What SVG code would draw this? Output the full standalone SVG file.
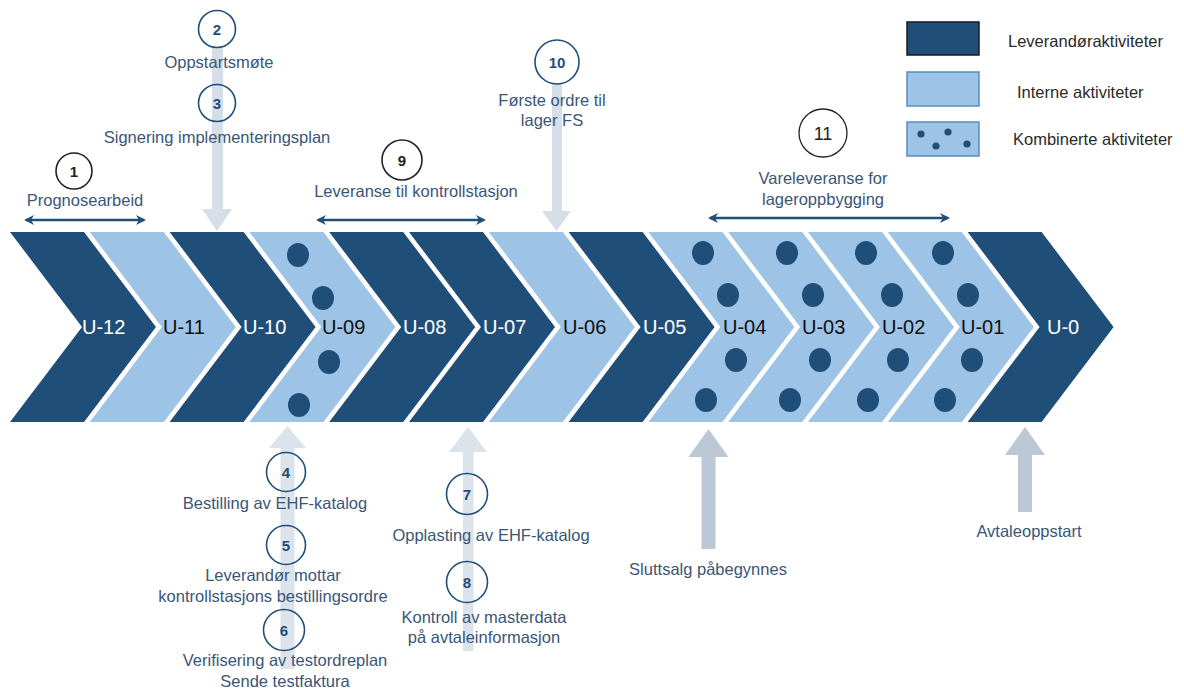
<svg xmlns="http://www.w3.org/2000/svg" width="1184" height="691" viewBox="0 0 1184 691">
<defs>
<style>
.dk{fill:#1F4E79}
.lt{fill:#9DC3E6}
.dot{fill:#1F4E79}
.ul{font-family:"Liberation Sans",Arial,sans-serif;font-size:20px}
.w{fill:#FFFFFF}
.b{fill:#111111}
.lbl{font-family:"Liberation Sans",Arial,sans-serif;font-size:16.5px;fill:#3A5676;text-anchor:middle}
.leg{font-family:"Liberation Sans",Arial,sans-serif;font-size:16.5px;fill:#2A2A2A}
.cb{fill:none;stroke:#1F4E79;stroke-width:1.6}
.ck{fill:none;stroke:#222222;stroke-width:1.6}
.nb{font-family:"Liberation Sans",Arial,sans-serif;font-size:15px;font-weight:bold;fill:#1F4E79;text-anchor:middle}
.nk{font-family:"Liberation Sans",Arial,sans-serif;font-size:15px;font-weight:bold;fill:#222222;text-anchor:middle}
.ga{fill:#D6DFE8}
.gb{fill:#DCE3EB}
.gc{fill:#BCC8D5}
.dbl{stroke:#1F4E79;stroke-width:2.5;fill:none;marker-start:url(#ah);marker-end:url(#ah)}
</style>
<marker id="ah" viewBox="0 0 10 10" refX="8" refY="5" markerWidth="4" markerHeight="4" orient="auto-start-reverse" markerUnits="strokeWidth">
<path d="M0,0 L10,5 L0,10 L3,5 Z" fill="#1F4E79"/>
</marker>
<path id="chev" d="M0,232 L74,232 L146,327 L74,422 L0,422 L72,327 Z"/>
</defs>

<g id="connectors">
<rect class="ga" x="212" y="48" width="11" height="162"/>
<polygon class="ga" points="202,209 232,209 217,231"/>
<rect class="ga" x="552" y="84" width="10" height="128"/>
<polygon class="ga" points="542,211 571,211 556.5,231"/>
<rect class="gb" x="280.5" y="447" width="14" height="222"/>
<polygon class="gb" points="269,448 306,448 287.5,426"/>
<rect class="gb" x="463" y="451" width="10.5" height="200"/>
<polygon class="gb" points="449,452 487,452 468,427"/>
<rect class="gc" x="701.5" y="455" width="14" height="94"/>
<polygon class="gc" points="688.5,457 728.5,457 708.5,429"/>
<rect class="gc" x="1018" y="453" width="14" height="59"/>
<polygon class="gc" points="1005,455 1045,455 1025,427"/>
<line class="dbl" x1="26" y1="220" x2="144" y2="220"/>
<line class="dbl" x1="318" y1="220" x2="484" y2="220"/>
<line class="dbl" x1="710" y1="218" x2="948" y2="218"/>
</g>

<g id="chevrons">
<g id="u12"><use href="#chev" class="dk" x="10"/><text class="ul w" x="82" y="334">U-12</text></g>
<g id="u11"><use href="#chev" class="lt" x="89.8"/><text class="ul b" x="163" y="334">U-11</text></g>
<g id="u10"><use href="#chev" class="dk" x="169.6"/><text class="ul w" x="243" y="334">U-10</text></g>
<g id="u09"><use href="#chev" class="lt" x="249.4"/><text class="ul b" x="322" y="334">U-09</text>
<ellipse class="dot" cx="298" cy="255" rx="11" ry="12"/><ellipse class="dot" cx="323" cy="298" rx="11" ry="12"/><ellipse class="dot" cx="329" cy="362" rx="11" ry="12"/><ellipse class="dot" cx="299" cy="405" rx="11" ry="12"/></g>
<g id="u08"><use href="#chev" class="dk" x="329.2"/><text class="ul w" x="403" y="334">U-08</text></g>
<g id="u07"><use href="#chev" class="dk" x="409"/><text class="ul w" x="483" y="334">U-07</text></g>
<g id="u06"><use href="#chev" class="lt" x="488.8"/><text class="ul b" x="563" y="334">U-06</text></g>
<g id="u05"><use href="#chev" class="dk" x="568.6"/><text class="ul w" x="643" y="334">U-05</text></g>
<g id="u04"><use href="#chev" class="lt" x="648.4"/><text class="ul b" x="723" y="334">U-04</text>
<ellipse class="dot" cx="703" cy="253" rx="11" ry="12"/><ellipse class="dot" cx="728" cy="295" rx="11" ry="12"/><ellipse class="dot" cx="736" cy="360" rx="11" ry="12"/><ellipse class="dot" cx="706" cy="400" rx="11" ry="12"/></g>
<g id="u03"><use href="#chev" class="lt" x="728.2"/><text class="ul b" x="802" y="334">U-03</text>
<ellipse class="dot" cx="787" cy="253" rx="11" ry="12"/><ellipse class="dot" cx="813" cy="295" rx="11" ry="12"/><ellipse class="dot" cx="820" cy="360" rx="11" ry="12"/><ellipse class="dot" cx="790" cy="400" rx="11" ry="12"/></g>
<g id="u02"><use href="#chev" class="lt" x="808"/><text class="ul b" x="882" y="334">U-02</text>
<ellipse class="dot" cx="866" cy="253" rx="11" ry="12"/><ellipse class="dot" cx="892" cy="295" rx="11" ry="12"/><ellipse class="dot" cx="898" cy="360" rx="11" ry="12"/><ellipse class="dot" cx="868" cy="400" rx="11" ry="12"/></g>
<g id="u01"><use href="#chev" class="lt" x="887.8"/><text class="ul b" x="961" y="334">U-01</text>
<ellipse class="dot" cx="943" cy="253" rx="11" ry="12"/><ellipse class="dot" cx="968" cy="295" rx="11" ry="12"/><ellipse class="dot" cx="972" cy="360" rx="11" ry="12"/><ellipse class="dot" cx="945" cy="400" rx="11" ry="12"/></g>
<g id="u0"><use href="#chev" class="dk" x="967.6"/><text class="ul w" x="1047" y="334">U-0</text></g>
</g>

<g id="step1"><circle class="ck" cx="74" cy="171" r="18"/><text class="nk" x="74" y="176.5">1</text><text class="lbl" x="85" y="206">Prognosearbeid</text></g>
<g id="step2"><circle class="cb" cx="217" cy="29" r="18.5"/><text class="nb" x="217" y="34.5">2</text><text class="lbl" x="219" y="68">Oppstartsmøte</text></g>
<g id="step3"><circle class="cb" cx="217" cy="103" r="18.5"/><text class="nb" x="217" y="108.5">3</text><text class="lbl" x="217" y="143">Signering implementeringsplan</text></g>
<g id="step9"><circle class="ck" cx="402" cy="160" r="20"/><text class="nk" x="402" y="165.5">9</text><text class="lbl" x="416" y="197">Leveranse til kontrollstasjon</text></g>
<g id="step10"><circle class="cb" cx="557" cy="62" r="22"/><text class="nb" x="557" y="67.5">10</text><text class="lbl" x="552" y="106">Første ordre til</text><text class="lbl" x="552" y="126">lager FS</text></g>
<g id="step11"><circle class="ck" cx="823" cy="133" r="24" style="stroke-width:1.3"/><text class="nk" x="823" y="140" style="font-weight:normal;font-size:18px">11</text><text class="lbl" x="823" y="184">Vareleveranse for</text><text class="lbl" x="823" y="205">lageroppbygging</text></g>
<g id="step4"><circle class="cb" cx="286" cy="472" r="19.5"/><text class="nb" x="286" y="477.5">4</text><text class="lbl" x="275" y="509">Bestilling av EHF-katalog</text></g>
<g id="step5"><circle class="cb" cx="286" cy="545" r="19.5"/><text class="nb" x="286" y="550.5">5</text><text class="lbl" x="273" y="581">Leverandør mottar</text><text class="lbl" x="273" y="602">kontrollstasjons bestillingsordre</text></g>
<g id="step6"><circle class="cb" cx="284" cy="630" r="20.5"/><text class="nb" x="284" y="635.5">6</text><text class="lbl" x="285" y="666">Verifisering av testordreplan</text><text class="lbl" x="285" y="687">Sende testfaktura</text></g>
<g id="step7"><circle class="cb" cx="467" cy="494" r="20.5"/><text class="nb" x="467" y="499.5">7</text><text class="lbl" x="491" y="541">Opplasting av EHF-katalog</text></g>
<g id="step8"><circle class="cb" cx="467" cy="582" r="20.5"/><text class="nb" x="467" y="587.5">8</text><text class="lbl" x="484" y="623">Kontroll av masterdata</text><text class="lbl" x="484" y="643">på avtaleinformasjon</text></g>
<g id="sluttsalg"><text class="lbl" x="708" y="575">Sluttsalg påbegynnes</text></g>
<g id="avtaleoppstart"><text class="lbl" x="1029" y="537">Avtaleoppstart</text></g>

<g id="legend">
<rect x="907" y="22" width="72" height="33" fill="#1F4E79" stroke="#1A1A1A" stroke-width="1.5"/>
<text class="leg" x="1008" y="47">Leverandøraktiviteter</text>
<rect x="907" y="72" width="72" height="34" fill="#9DC3E6" stroke="#5A8CC0" stroke-width="1.5"/>
<text class="leg" x="1017" y="98">Interne aktiviteter</text>
<rect x="907" y="122" width="72" height="34" fill="#9DC3E6" stroke="#5A8CC0" stroke-width="1.5"/>
<circle class="dot" cx="921" cy="134" r="3.6"/><circle class="dot" cx="936" cy="146" r="3.6"/><circle class="dot" cx="948" cy="132" r="3.6"/><circle class="dot" cx="967" cy="144" r="3.6"/>
<text class="leg" x="1013" y="145">Kombinerte aktiviteter</text>
</g>
</svg>
